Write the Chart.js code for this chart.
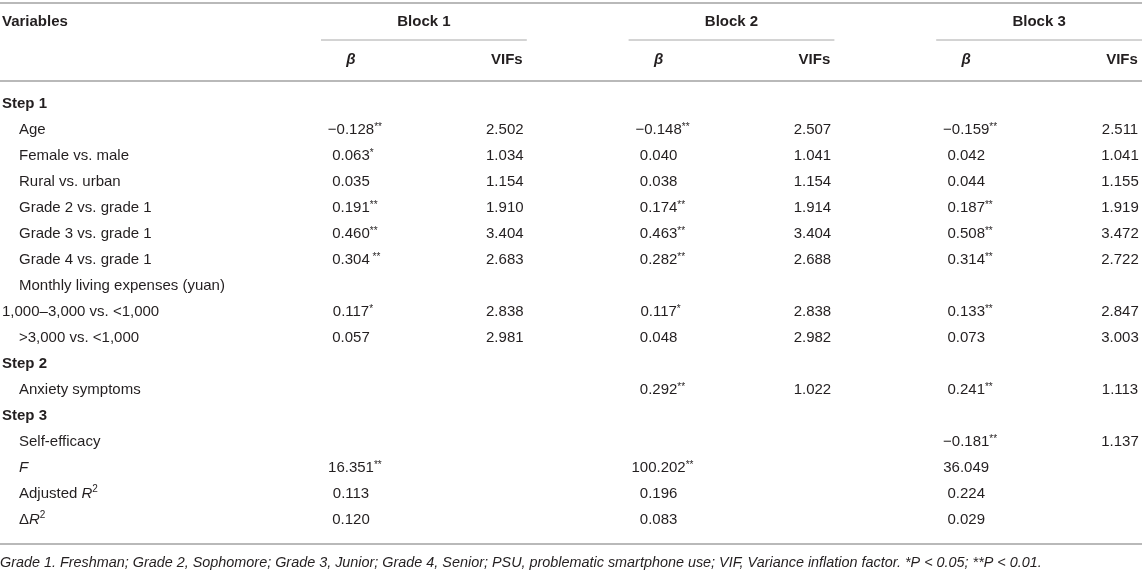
<!DOCTYPE html>
<html lang="en">
<head>
  <meta charset="UTF-8">
  <title>Hierarchical regression – PSU</title>
  <script src="https://cdn.jsdelivr.net/npm/chart.js"></script>
  <style>
    body { margin: 0; background: #fff; }
    canvas { display: block; }
  </style>
</head>
<body>
  <canvas id="tableChart" width="1142" height="574"></canvas>

  <script>
    // Row labels (y axis categories)
    const rowLabels = [
      'Step 1', 'Age', 'Female vs. male', 'Rural vs. urban',
      'Grade 2 vs. grade 1', 'Grade 3 vs. grade 1', 'Grade 4 vs. grade 1',
      'Monthly living expenses (yuan)', '1,000–3,000 vs. <1,000', '>3,000 vs. <1,000',
      'Step 2', 'Anxiety symptoms', 'Step 3', 'Self-efficacy',
      'F', 'Adjusted R²', 'ΔR²'
    ];

    // Column categories (x axis)
    const columnKeys = ['b1', 'v1', 'b2', 'v2', 'b3', 'v3'];
    const blockNames = ['Block 1', 'Block 2', 'Block 3'];

    // Block 1
    const beta1 = [null, -0.128, 0.063, 0.035, 0.191, 0.460, 0.304, null, 0.117, 0.057, null, null, null, null, 16.351, 0.113, 0.120];
    const sig1  = ['', '**', '*', '', '**', '**', ' **', '', '*', '', '', '', '', '', '**', '', ''];
    const vif1  = [null, 2.502, 1.034, 1.154, 1.910, 3.404, 2.683, null, 2.838, 2.981, null, null, null, null, null, null, null];

    // Block 2
    const beta2 = [null, -0.148, 0.040, 0.038, 0.174, 0.463, 0.282, null, 0.117, 0.048, null, 0.292, null, null, 100.202, 0.196, 0.083];
    const sig2  = ['', '**', '', '', '**', '**', '**', '', '*', '', '', '**', '', '', '**', '', ''];
    const vif2  = [null, 2.507, 1.041, 1.154, 1.914, 3.404, 2.688, null, 2.838, 2.982, null, 1.022, null, null, null, null, null];

    // Block 3
    const beta3 = [null, -0.159, 0.042, 0.044, 0.187, 0.508, 0.314, null, 0.133, 0.073, null, 0.241, null, -0.181, 36.049, 0.224, 0.029];
    const sig3  = ['', '**', '', '', '**', '**', '**', '', '**', '', '', '**', '', '**', '', '', ''];
    const vif3  = [null, 2.511, 1.041, 1.155, 1.919, 3.472, 2.722, null, 2.847, 3.003, null, 1.113, null, 1.137, null, null, null];

    const footnote = 'Grade 1. Freshman; Grade 2, Sophomore; Grade 3, Junior; Grade 4, Senior; PSU, problematic smartphone use; VIF, Variance inflation factor. *P < 0.05; **P < 0.01.';

    const FONT = '"Liberation Sans", Arial, sans-serif';
    const INK = '#231f20';
    const RULE = '#b9b9b9';

    const fmt = v => (v < 0 ? '\u2212' : '') + Math.abs(v).toFixed(3);

    // one dataset per column, one point per filled cell
    function column(key, values, stars) {
      const data = [];
      values.forEach((v, i) => {
        if (v === null) return;
        data.push({ x: key, y: rowLabels[i], text: fmt(v), sup: stars ? stars[i] : '' });
      });
      return { label: key, data: data, pointRadius: 0 };
    }

    const datasets = [
      column('b1', beta1, sig1), column('v1', vif1),
      column('b2', beta2, sig2), column('v2', vif2),
      column('b3', beta3, sig3), column('v3', vif3)
    ];

    function hline(ctx, x1, x2, y, w, color) {
      ctx.save();
      ctx.strokeStyle = color;
      ctx.lineWidth = w;
      ctx.beginPath();
      ctx.moveTo(x1, y);
      ctx.lineTo(x2, y);
      ctx.stroke();
      ctx.restore();
    }

    const tablePlugin = {
      id: 'tableText',
      afterDatasetsDraw(chart) {
        const ctx = chart.ctx;
        const xs = chart.scales.x, ys = chart.scales.y;
        const area = chart.chartArea;
        const W = chart.width;
        ctx.save();
        ctx.fillStyle = INK;
        ctx.textBaseline = 'middle';

        // header
        const top = area.top;
        hline(ctx, 0, W, top - 101, 2, RULE);
        ctx.font = 'bold 15px ' + FONT;
        ctx.textAlign = 'left';
        ctx.fillText('Variables', 2, top - 82);
        blockNames.forEach((name, b) => {
          const bx = xs.getPixelForValue(b * 2);
          const vx = xs.getPixelForValue(b * 2 + 1);
          const x1 = bx - 30, x2 = Math.min(W, vx + 22);
          ctx.font = 'bold 15px ' + FONT;
          ctx.textAlign = 'center';
          ctx.fillText(name, (x1 + x2) / 2, top - 82);
          hline(ctx, x1, x2, top - 64, 1, '#a8a8a8');
          ctx.font = 'italic bold 15px ' + FONT;
          ctx.fillText('β', bx, top - 44);
          ctx.font = 'bold 15px ' + FONT;
          ctx.fillText('VIFs', vx + 2, top - 44);
        });
        hline(ctx, 0, W, top - 23, 2, RULE);

        // row labels
        rowLabels.forEach((label, i) => {
          const y = ys.getPixelForValue(i);
          const step = label.startsWith('Step');
          const x = (step || label.startsWith('1,000')) ? 2 : 19;
          ctx.textAlign = 'left';
          if (step) {
            ctx.font = 'bold 15px ' + FONT;
            ctx.fillText(label, x, y);
          } else if (label === 'F') {
            ctx.font = 'italic 15px ' + FONT;
            ctx.fillText(label, x, y);
          } else if (label.endsWith('R²')) {
            const pre = label.slice(0, -2);
            ctx.font = '15px ' + FONT;
            ctx.fillText(pre, x, y);
            let cx = x + ctx.measureText(pre).width;
            ctx.font = 'italic 15px ' + FONT;
            ctx.fillText('R', cx, y);
            cx += ctx.measureText('R').width;
            ctx.font = '10px ' + FONT;
            ctx.fillText('2', cx, y - 5);
          } else {
            ctx.font = '15px ' + FONT;
            ctx.fillText(label, x, y);
          }
        });

        // cells
        chart.data.datasets.forEach((ds, di) => {
          const meta = chart.getDatasetMeta(di);
          meta.data.forEach((el, j) => {
            const cell = ds.data[j];
            ctx.font = '15px ' + FONT;
            ctx.textAlign = 'center';
            ctx.fillText(cell.text, el.x, el.y);
            if (cell.sup) {
              const w = ctx.measureText(cell.text).width;
              ctx.font = '10px ' + FONT;
              ctx.textAlign = 'left';
              ctx.fillText(cell.sup, el.x + w / 2, el.y - 3);
            }
          });
        });

        // bottom rule and footnote
        hline(ctx, 0, W, area.bottom + 24, 2, RULE);
        ctx.font = 'italic 14.4px ' + FONT;
        ctx.textAlign = 'left';
        ctx.fillText(footnote, 0, area.bottom + 43);
        ctx.restore();
      }
    };

    new Chart(document.getElementById('tableChart'), {
      type: 'scatter',
      data: { datasets: datasets },
      options: {
        responsive: false,
        animation: false,
        layout: { padding: { left: 351, right: 22, top: 104, bottom: 54 } },
        scales: {
          x: { type: 'category', labels: columnKeys, offset: false, display: false },
          y: { type: 'category', labels: rowLabels, offset: false, display: false }
        },
        plugins: {
          legend: { display: false },
          tooltip: { enabled: false }
        }
      },
      plugins: [tablePlugin]
    });
  </script>
</body>
</html>
